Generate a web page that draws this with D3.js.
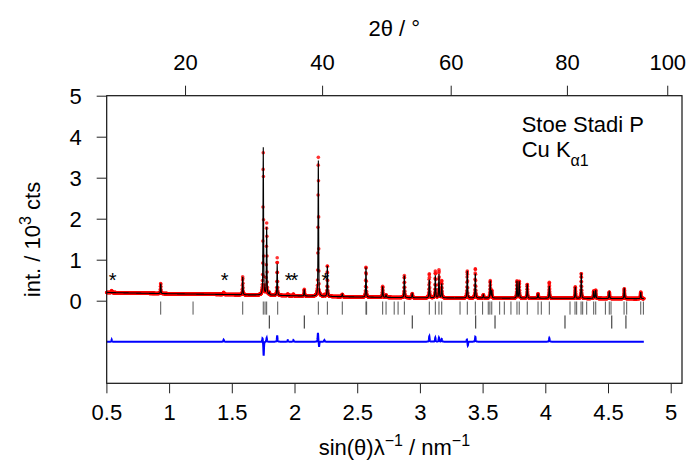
<!DOCTYPE html>
<html>
<head>
<meta charset="utf-8">
<script src="https://cdn.jsdelivr.net/npm/d3@7"></script>
<style>
  body { margin: 0; background: #fff; }
  svg text { font-family: "Liberation Sans", Arial, sans-serif; fill: #000; }
</style>
</head>
<body>
<div id="chart"></div>
<script>
// powder pattern: observed (red), calculated (black), difference (blue, offset -1)
const LAMBDA = 0.15406 // nm, Cu Ka1

// background anchors (sin(theta)/lambda, 10^3 cts)
const bgS = [0.5, 1.0, 1.5, 2.0, 2.5, 3.0, 4.0, 4.8]
const bgI = [0.2, 0.17, 0.15, 0.12, 0.09, 0.07, 0.06, 0.05]

// calculated reflections: position and height above background
const peakS = [0.933, 1.587, 1.751, 1.778, 1.799, 1.862, 2.078, 2.190, 2.262, 2.381,
    2.570, 2.703, 2.730, 2.876, 2.939, 3.075, 3.123, 3.152, 3.174, 3.378,
    3.442, 3.506, 3.561, 3.573, 3.774, 3.792, 3.856, 3.942, 4.032, 4.239,
    4.287, 4.386, 4.402, 4.510, 4.630, 4.761]
const peakI = [0.25, 0.44, 3.60, 1.66, 0.06, 0.77, 0.16, 3.33, 0.76, 0.06,
    0.74, 0.27, 0.06, 0.54, 0.10, 0.45, 0.55, 0.58, 0.35, 0.66,
    0.60, 0.08, 0.42, 0.18, 0.42, 0.41, 0.34, 0.11, 0.30, 0.28,
    0.61, 0.18, 0.20, 0.16, 0.24, 0.16]

// observed minus calculated (blue curve features)
const diffS = [0.542, 1.435, 1.745, 1.754, 1.778, 1.862, 1.946, 1.991, 2.187, 2.196,
    2.238, 3.075, 3.123, 3.152, 3.174, 3.375, 3.382, 3.442, 4.032]
const diffI = [0.05, 0.05, 0.10, -0.35, 0.10, 0.15, 0.04, 0.04, 0.22, -0.12,
    0.04, 0.14, 0.10, 0.10, 0.07, 0.06, -0.10, 0.12, 0.09]

// reflection markers, main phase and second phase
const tick1 = [0.933, 1.191, 1.587, 1.751, 1.765, 1.778, 1.866, 2.190, 2.262, 2.381,
    2.570, 2.575, 2.703, 2.730, 2.795, 2.826, 2.876, 3.075, 3.123, 3.152,
    3.174, 3.320, 3.378, 3.442, 3.500, 3.545, 3.558, 3.573, 3.636, 3.673,
    3.726, 3.774, 3.792, 3.856, 3.942, 3.968, 4.032, 4.197, 4.237, 4.250,
    4.285, 4.298, 4.330, 4.386, 4.402, 4.479, 4.510, 4.524, 4.628, 4.649,
    4.761, 4.782]
const tick2 = [1.799, 2.078, 2.939, 3.445, 3.599, 4.157, 4.530, 4.643]

// impurity reflections
const starS = [0.542, 1.435, 1.946, 1.991, 2.238]

const twoThetaTicks = [20, 40, 60, 80, 100]
const sTicks = [0.5, 1, 1.5, 2, 2.5, 3, 3.5, 4, 4.5, 5]
const intTicks = [0, 1, 2, 3, 4, 5]

const width = 687, height = 465
const box = {left: 106.7, right: 682, top: 95.7, bottom: 383.3}
const fs = 22

const svg = d3.select("#chart").append("svg")
    .attr("width", width)
    .attr("height", height)

const x = d3.scaleLinear().domain([0.5024, 5.090]).range([box.left, box.right])
const y = d3.scaleLinear().domain([-2.015, 5]).range([box.bottom, box.top])
const bg = d3.scaleLinear().domain(bgS).range(bgI).clamp(true)

const toTT = s => 2 * Math.asin(s * LAMBDA) * 180 / Math.PI
const toS = tt => Math.sin(tt / 2 * Math.PI / 180) / LAMBDA

function shape(dx, tt) {
    const w = 0.07 + 0.0008 * tt
    const q = 4 * dx * dx / (w * w)
    return 0.5 / (1 + q) + 0.5 * Math.exp(-Math.LN2 * q)
}

const peakTT = peakS.map(toTT)
const diffTT = diffS.map(toTT)

// profile sampled on the 2theta step grid
const pts = []
for (let tt = 8.88; tt <= 95.0; tt += 0.02) {
    const s = toS(tt)
    let calc = bg(s)
    peakTT.forEach((p, i) => { if (Math.abs(tt - p) < 2) calc += peakI[i] * shape(tt - p, tt) })
    let diff = 0
    diffTT.forEach((p, i) => { if (Math.abs(tt - p) < 2) diff += diffI[i] * shape(tt - p, tt) })
    pts.push({s: s, calc: calc, obs: calc + diff, diff: diff})
}

const plot = svg.append("g")

// observed points
plot.append("g")
    .selectAll("circle")
    .data(pts)
    .join("circle")
    .attr("cx", d => x(d.s))
    .attr("cy", d => y(d.obs))
    .attr("r", 1.8)
    .attr("fill", "#ff0000")
    .attr("fill-opacity", 0.8)

// calculated
plot.append("path")
    .datum(pts)
    .attr("fill", "none")
    .attr("stroke", "#000")
    .attr("stroke-width", 1.1)
    .attr("d", d3.line().x(d => x(d.s)).y(d => y(d.calc)))

// difference
plot.append("path")
    .datum(pts)
    .attr("fill", "none")
    .attr("stroke", "#0000ff")
    .attr("stroke-width", 2)
    .attr("d", d3.line().x(d => x(d.s)).y(d => y(-1 + d.diff)))

// reflection markers
plot.append("g")
    .selectAll("line")
    .data(tick1)
    .join("line")
    .attr("x1", d => x(d)).attr("x2", d => x(d))
    .attr("y1", y(-0.02)).attr("y2", y(-0.34))
    .attr("stroke", "#555")
    .attr("stroke-width", 1)

plot.append("g")
    .selectAll("line")
    .data(tick2)
    .join("line")
    .attr("x1", d => x(d)).attr("x2", d => x(d))
    .attr("y1", y(-0.36)).attr("y2", y(-0.68))
    .attr("stroke", "#222")
    .attr("stroke-width", 1)

// stars closer than a glyph are written as one label
const starGroups = []
starS.forEach(s => {
    const last = starGroups[starGroups.length - 1]
    if (last && x(s) - x(last[last.length - 1]) < 8) last.push(s)
    else starGroups.push([s])
})
plot.append("g")
    .selectAll("text")
    .data(starGroups)
    .join("text")
    .attr("x", g => x(d3.mean(g)))
    .attr("y", y(0.6) + 11)
    .attr("text-anchor", "middle")
    .style("font-size", "20px")
    .style("letter-spacing", "-2px")
    .text(g => "*".repeat(g.length))

// frame
svg.append("rect")
    .attr("x", box.left).attr("y", box.top)
    .attr("width", box.right - box.left)
    .attr("height", box.bottom - box.top)
    .attr("fill", "none")
    .attr("stroke", "#111")
    .attr("stroke-width", 1.2)

// axes
const axB = svg.append("g")
    .attr("transform", `translate(0,${box.bottom})`)
    .call(d3.axisBottom(x).tickValues(sTicks).tickSize(10).tickSizeOuter(0)
        .tickFormat(d => String(d)))
const axT = svg.append("g")
    .attr("transform", `translate(0,${box.top})`)
    .call(d3.axisTop(x).tickValues(twoThetaTicks.map(toS)).tickSize(10).tickSizeOuter(0)
        .tickFormat((d, i) => twoThetaTicks[i]))
const axL = svg.append("g")
    .attr("transform", `translate(${box.left},0)`)
    .call(d3.axisLeft(y).tickValues(intTicks).tickSize(10).tickSizeOuter(0)
        .tickFormat(d => String(d)))

;[axB, axT, axL].forEach(a => {
    a.select(".domain").remove()
    a.selectAll(".tick line").attr("stroke", "#222")
    a.selectAll("text").style("font-size", fs + "px").attr("font-family", null)
})
axB.selectAll("text").attr("y", 0).attr("dy", null).attr("transform", "translate(0,37)")
axT.selectAll("text").attr("y", 0).attr("dy", null).attr("transform", `translate(0,${70 - box.top})`)
axL.selectAll("text").attr("x", -25).attr("dy", "0.35em")

// titles
svg.append("text")
    .attr("x", (box.left + box.right) / 2)
    .attr("y", 36)
    .attr("text-anchor", "middle")
    .style("font-size", fs + "px")
    .text("2θ / °")

const xt = svg.append("text")
    .attr("x", (box.left + box.right) / 2)
    .attr("y", 455)
    .attr("text-anchor", "middle")
    .style("font-size", fs + "px")
xt.append("tspan").text("sin(θ)λ")
xt.append("tspan").attr("dy", -9).style("font-size", "16px").text("−1")
xt.append("tspan").attr("dy", 9).text(" / nm")
xt.append("tspan").attr("dy", -9).style("font-size", "16px").text("−1")

const yt = svg.append("text")
    .attr("transform", `translate(40,${(box.top + box.bottom) / 2}) rotate(-90)`)
    .attr("text-anchor", "middle")
    .style("font-size", fs + "px")
yt.append("tspan").text("int. / 10")
yt.append("tspan").attr("dy", -9).style("font-size", "16px").text("3")
yt.append("tspan").attr("dy", 9).text(" cts")

// instrument label
svg.append("text")
    .attr("x", 521.7).attr("y", 132.3)
    .style("font-size", fs + "px")
    .text("Stoe Stadi P")
const lab = svg.append("text")
    .attr("x", 521.7).attr("y", 156.7)
    .style("font-size", fs + "px")
lab.append("tspan").text("Cu K")
lab.append("tspan").attr("dy", 9).style("font-size", "16px").text("α1")
</script>
</body>
</html>
